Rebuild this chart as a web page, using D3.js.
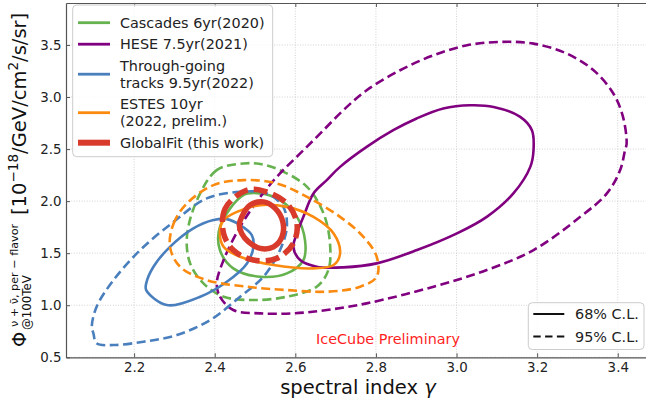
<!DOCTYPE html>
<html>
<head>
<meta charset="utf-8">
<script src="https://cdn.jsdelivr.net/npm/d3@7"></script>
<style>
  html, body { margin: 0; padding: 0; background: #fff; }
  svg { display: block; font-family: "DejaVu Sans", sans-serif; }
</style>
</head>
<body>
<svg id="chart" width="646" height="403"></svg>
<script>
// Axis ticks
const xTicks = [2.2, 2.4, 2.6, 2.8, 3.0, 3.2, 3.4];
const yTicks = [0.5, 1.0, 1.5, 2.0, 2.5, 3.0, 3.5];

// Contours: [spectral index gamma, flux normalisation]
const cascades68 = [[2.471,2.058],[2.413,1.753],[2.413,1.530],[2.446,1.354],[2.513,1.274],[2.579,1.306],[2.620,1.434],[2.624,1.626],[2.604,1.849],[2.562,2.010],[2.513,2.074]];
const cascades95 = [[2.471,2.362],[2.405,2.298],[2.356,2.010],[2.331,1.657],[2.339,1.402],[2.372,1.210],[2.422,1.082],[2.496,1.050],[2.579,1.082],[2.653,1.178],[2.682,1.338],[2.686,1.594],[2.670,1.882],[2.629,2.137],[2.562,2.298],[2.513,2.356]];
const hese68 = [[2.595,1.561],[2.612,1.434],[2.653,1.370],[2.719,1.364],[2.802,1.402],[2.902,1.530],[3.001,1.690],[3.075,1.849],[3.141,2.074],[3.183,2.329],[3.191,2.489],[3.187,2.681],[3.158,2.809],[3.092,2.905],[3.034,2.921],[2.967,2.890],[2.901,2.794],[2.843,2.681],[2.777,2.521],[2.711,2.329],[2.678,2.202],[2.645,2.074],[2.620,1.849],[2.604,1.690]];
const hese95 = [[2.405,1.210],[2.413,1.082],[2.446,0.954],[2.513,0.922],[2.595,0.922],[2.678,0.954],[2.777,1.018],[2.943,1.178],[3.075,1.338],[3.191,1.530],[3.307,1.849],[3.373,2.074],[3.406,2.298],[3.418,2.489],[3.422,2.554],[3.413,2.809],[3.389,3.034],[3.340,3.257],[3.273,3.418],[3.191,3.513],[3.108,3.529],[3.026,3.497],[2.943,3.401],[2.860,3.257],[2.777,3.065],[2.719,2.873],[2.662,2.650],[2.612,2.458],[2.562,2.266],[2.513,2.041],[2.463,1.753],[2.422,1.434]];
const tracks68 = [[2.230,1.146],[2.281,1.002],[2.364,1.082],[2.430,1.226],[2.480,1.402],[2.496,1.561],[2.492,1.674],[2.463,1.770],[2.430,1.827],[2.397,1.818],[2.347,1.738],[2.289,1.561],[2.248,1.370],[2.230,1.210]];
const tracks95 = [[2.099,0.730],[2.107,0.634],[2.149,0.618],[2.223,0.650],[2.306,0.714],[2.389,0.858],[2.463,1.082],[2.521,1.274],[2.562,1.530],[2.579,1.753],[2.570,1.945],[2.529,2.074],[2.463,2.089],[2.380,2.026],[2.298,1.801],[2.215,1.530],[2.149,1.242],[2.107,0.986],[2.095,0.794]];
const estes68 = [[2.413,1.722],[2.422,1.561],[2.463,1.466],[2.546,1.386],[2.645,1.354],[2.695,1.386],[2.711,1.498],[2.695,1.690],[2.645,1.849],[2.579,1.945],[2.513,1.962],[2.455,1.897],[2.422,1.818]];
const estes95 = [[2.289,1.561],[2.298,1.786],[2.331,1.978],[2.397,2.154],[2.471,2.202],[2.554,2.170],[2.629,2.041],[2.711,1.849],[2.769,1.657],[2.802,1.465],[2.802,1.274],[2.761,1.178],[2.678,1.130],[2.579,1.146],[2.480,1.178],[2.380,1.242],[2.314,1.370]];
const globalfit68 = [[2.467,1.849],[2.488,1.962],[2.521,1.993],[2.550,1.930],[2.569,1.801],[2.567,1.657],[2.546,1.561],[2.513,1.546],[2.484,1.609],[2.467,1.690],[2.461,1.770]];
const globalfit95 = [[2.480,2.106],[2.426,1.930],[2.422,1.690],[2.446,1.530],[2.496,1.434],[2.554,1.450],[2.595,1.594],[2.604,1.786],[2.579,1.978],[2.529,2.089]];

// Legend entries
const seriesLabels = [["Cascades 6yr(2020)"], ["HESE 7.5yr(2021)"], ["Through-going", "tracks 9.5yr(2022)"], ["ESTES 10yr", "(2022, prelim.)"], ["GlobalFit (this work)"]];
const seriesColors = ["#66b24e", "#800080", "#4a7fbe", "#fb8a10", "#d83a2c"];
const clLabels = ["68% C.L.", "95% C.L."];

const seriesWidths = [2.6, 2.6, 2.6, 2.6, 5.5];
const seriesDash = ["9,4.5", "9,4.5", "9,4.5", "9,4.5", "14,6"];
const contourSets = [
  [cascades68, cascades95],
  [hese68, hese95],
  [tracks68, tracks95],
  [estes68, estes95],
  [globalfit68, globalfit95]
];

const svg = d3.select("#chart");
const plot = { left: 66, right: 650, top: 3, bottom: 357.3 };

const x = d3.scaleLinear().domain([2.031, 3.48]).range([plot.left, plot.right]);
const y = d3.scaleLinear().domain([0.5, 3.903]).range([plot.bottom, plot.top]);

svg.append("defs").append("clipPath").attr("id", "plotclip")
  .append("rect")
  .attr("x", plot.left).attr("y", plot.top)
  .attr("width", plot.right - plot.left).attr("height", plot.bottom - plot.top);

// Grid
const grid = svg.append("g").attr("stroke", "#c8c8c8").attr("stroke-width", 0.8).attr("stroke-dasharray", "1,1.6");
grid.selectAll("line.vx").data(xTicks).join("line")
  .attr("x1", d => x(d)).attr("x2", d => x(d))
  .attr("y1", plot.top).attr("y2", plot.bottom);
grid.selectAll("line.hy").data(yTicks).join("line")
  .attr("x1", plot.left).attr("x2", plot.right)
  .attr("y1", d => y(d)).attr("y2", d => y(d));

// Contours
const line = d3.line()
  .x(d => x(d[0])).y(d => y(d[1]))
  .curve(d3.curveCatmullRomClosed.alpha(0.5));

const contours = svg.append("g").attr("clip-path", "url(#plotclip)").attr("fill", "none");
contourSets.forEach((pair, i) => {
  contours.append("path")
    .attr("d", line(pair[0]))
    .attr("stroke", seriesColors[i])
    .attr("stroke-width", seriesWidths[i])
    .attr("stroke-linejoin", "round");
  contours.append("path")
    .attr("d", line(pair[1]))
    .attr("stroke", seriesColors[i])
    .attr("stroke-width", seriesWidths[i])
    .attr("stroke-dasharray", seriesDash[i]);
});

// Axes with inward ticks
const axisColor = "#555";
const tickText = "#222";
const xAxis = svg.append("g").attr("transform", `translate(0,${plot.bottom})`)
  .call(d3.axisBottom(x).tickValues(xTicks).tickFormat(d3.format(".1f")).tickSizeInner(-4).tickSizeOuter(0).tickPadding(5));
const yAxis = svg.append("g").attr("transform", `translate(${plot.left},0)`)
  .call(d3.axisLeft(y).tickValues(yTicks).tickFormat(d3.format(".1f")).tickSizeInner(-4).tickSizeOuter(0).tickPadding(4.5));
const xTop = svg.append("g").attr("transform", `translate(0,${plot.top})`)
  .call(d3.axisTop(x).tickValues(xTicks).tickFormat("").tickSizeInner(-4).tickSizeOuter(0));
const yRight = svg.append("g").attr("transform", `translate(${plot.right},0)`)
  .call(d3.axisRight(y).tickValues(yTicks).tickFormat("").tickSizeInner(-4).tickSizeOuter(0));
[xAxis, yAxis, xTop, yRight].forEach(g => {
  g.attr("font-family", null);
  g.select(".domain").attr("stroke", axisColor).attr("stroke-width", 1.2);
  g.selectAll(".tick line").attr("stroke", axisColor).attr("stroke-width", 1);
  g.selectAll(".tick text").attr("fill", tickText).attr("font-size", 13.4);
});

// Axis titles
svg.append("text")
  .attr("x", (plot.left + plot.right) / 2).attr("y", 393.5)
  .attr("text-anchor", "middle").attr("font-size", 19.5).attr("fill", "#111")
  .text("spectral index ")
  .append("tspan").attr("font-style", "italic").text("γ");

const ylab = svg.append("g").attr("transform", "translate(25.5,0) rotate(-90)").attr("fill", "#111");
ylab.append("text").attr("x", -347).attr("y", 0).attr("font-size", 19.5).text("Φ");
ylab.append("text").attr("x", -327).attr("y", -8).attr("font-size", 11.2).text("ν + ν̄, per − flavor");
ylab.append("text").attr("x", -330).attr("y", 5.5).attr("font-size", 11.8).text("@100TeV");
const ymain = ylab.append("text").attr("x", -215).attr("y", 0).attr("font-size", 19.5);
ymain.append("tspan").text("[10");
ymain.append("tspan").attr("font-size", 13.6).attr("dy", -7.5).text("−18");
ymain.append("tspan").attr("dy", 7.5).text("/GeV/cm");
ymain.append("tspan").attr("font-size", 13.6).attr("dy", -7.5).text("2");
ymain.append("tspan").attr("dy", 7.5).text("/s/sr]");

// Watermark label
svg.append("text")
  .attr("x", 316).attr("y", 344)
  .attr("font-size", 14.4).attr("fill", "#ff1f1f")
  .text("IceCube Preliminary");

// Dataset legend
const leg = svg.append("g");
leg.append("rect")
  .attr("x", 72.7).attr("y", 5).attr("width", 200).attr("height", 151.7)
  .attr("rx", 4).attr("fill", "#fff").attr("fill-opacity", 0.8)
  .attr("stroke", "#cccccc").attr("stroke-width", 1);
let rowY = 22.7;
seriesLabels.forEach((lines, i) => {
  const mid = rowY + (lines.length - 1) * 17 / 2;
  leg.append("line")
    .attr("x1", 78).attr("x2", 110).attr("y1", mid).attr("y2", mid)
    .attr("stroke", seriesColors[i]).attr("stroke-width", seriesWidths[i] === 5.5 ? 6 : 2.8);
  lines.forEach((t, k) => {
    leg.append("text")
      .attr("x", 120).attr("y", rowY + k * 17).attr("dy", "0.36em")
      .attr("font-size", 14.4).attr("fill", "#222").text(t);
  });
  rowY += (lines.length - 1) * 17 + 21.5;
});

// Confidence-level legend
const leg2 = svg.append("g");
leg2.append("rect")
  .attr("x", 528.3).attr("y", 302.7).attr("width", 115.7).attr("height", 46.8)
  .attr("rx", 4).attr("fill", "#fff").attr("fill-opacity", 0.8)
  .attr("stroke", "#cccccc").attr("stroke-width", 1);
clLabels.forEach((t, i) => {
  const ly = 314 + i * 22.6;
  leg2.append("line")
    .attr("x1", 533.3).attr("x2", 564.3).attr("y1", ly).attr("y2", ly)
    .attr("stroke", "#111").attr("stroke-width", 2)
    .attr("stroke-dasharray", i === 0 ? null : "7.4,4.4");
  leg2.append("text")
    .attr("x", 575).attr("y", ly).attr("dy", "0.36em")
    .attr("font-size", 14.4).attr("fill", "#222").text(t);
});
</script>
</body>
</html>
